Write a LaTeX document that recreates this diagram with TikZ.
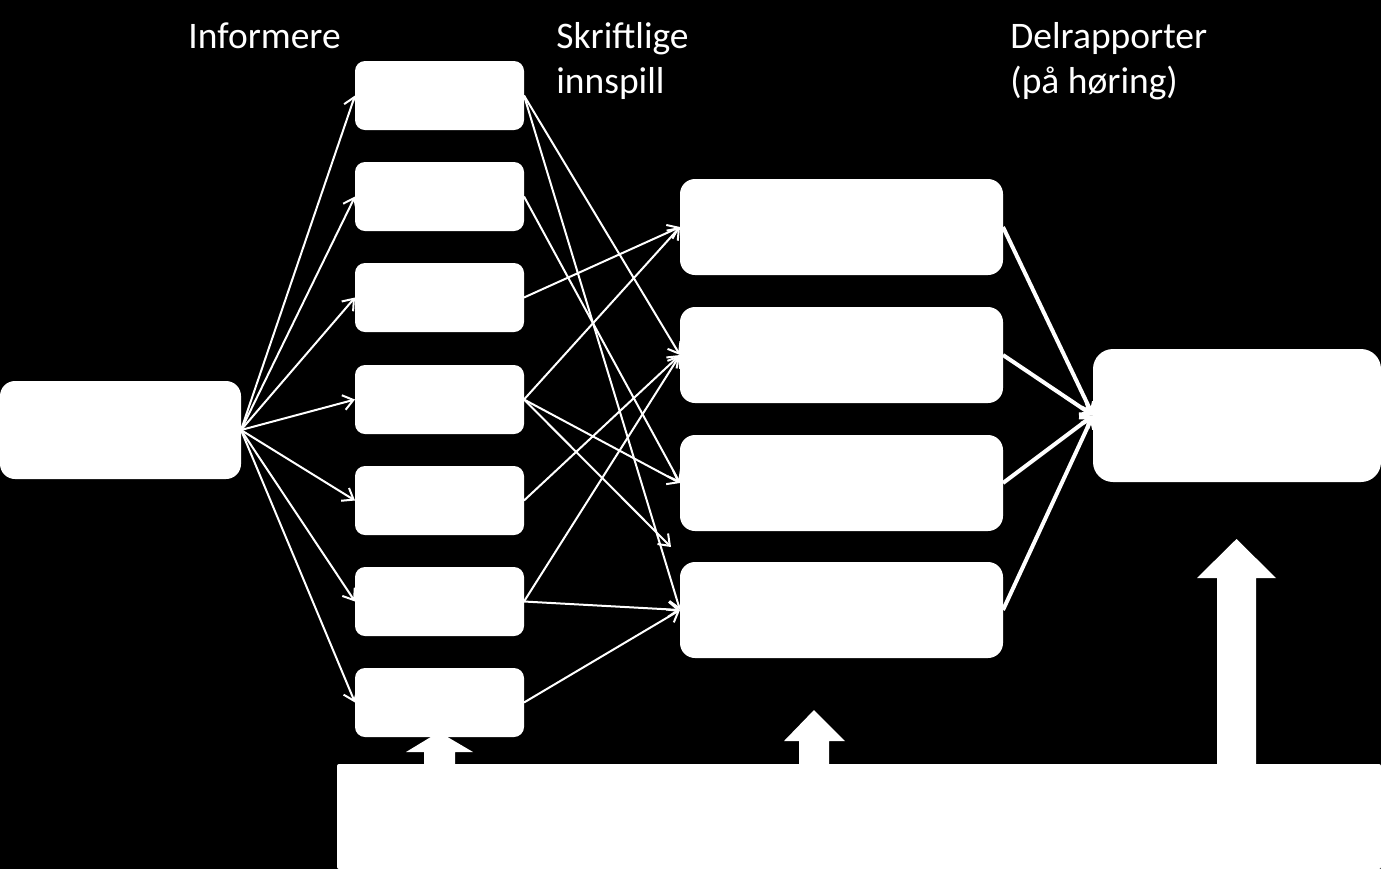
\documentclass[tikz,border=0pt]{standalone}
\usepackage{fontspec}
\setmainfont{Carlito}
\usetikzlibrary{arrows.meta}
\begin{document}
\begin{tikzpicture}[x=0.5pt,y=-0.5pt,
  box/.style={fill=white, draw=none, inner sep=0pt, outer sep=0pt},
  leftbox/.style={box, minimum width=120.5pt, minimum height=49pt, rounded corners=7.5pt},
  smallbox/.style={box, minimum width=84.5pt, minimum height=34.5pt, rounded corners=5pt},
  midbox/.style={box, minimum width=161.5pt, minimum height=48pt, rounded corners=7.5pt},
  rightbox/.style={box, minimum width=144pt, minimum height=66.5pt, rounded corners=10pt},
  basebox/.style={box, minimum width=522pt, minimum height=52.5pt, rounded corners=1pt},
  lbl/.style={text=white, font=\fontsize{18.75}{22.5}\selectfont, inner sep=0pt, anchor=base west},
  thin/.style={draw=white, line width=1pt, -{Straight Barb[length=5pt,width=7.5pt]}},
  thick/.style={draw=white, line width=2pt, -{Straight Barb[length=4.5pt,width=7pt]}},
  blockarrow/.style={fill=white, draw=none}
]
\fill[black] (0,0) rectangle (1381,869);
\useasboundingbox (0,0) rectangle (1381,869);

% base rectangle
\node[basebox] (base) at (859,816.5) {};

% block arrows (drawn before boxes so boxes cover the tips)
\fill[blockarrow] (424,764) -- (424,752) -- (406,752) -- (439,732) -- (473,752) -- (455,752) -- (455,764) -- cycle;
\fill[blockarrow] (799,764) -- (799,741) -- (784,741) -- (814,710) -- (845,741) -- (829,741) -- (829,764) -- cycle;
\fill[blockarrow] (1217,764) -- (1217,578) -- (1197,578) -- (1236.5,539) -- (1276,578) -- (1256,578) -- (1256,764) -- cycle;

% boxes
\node[leftbox] (L) at (120.5,430) {};
\node[smallbox] (s1) at (439.5,95.5) {};
\node[smallbox] (s2) at (439.5,196.5) {};
\node[smallbox] (s3) at (439.5,297.5) {};
\node[smallbox] (s4) at (439.5,399.5) {};
\node[smallbox] (s5) at (439.5,500.5) {};
\node[smallbox] (s6) at (439.5,601.5) {};
\node[smallbox] (s7) at (439.5,702.5) {};
\node[midbox] (m1) at (841.5,227) {};
\node[midbox] (m2) at (841.5,355) {};
\node[midbox] (m3) at (841.5,483) {};
\node[midbox] (m4) at (841.5,610) {};
\node[rightbox] (R) at (1237,415.5) {};
\coordinate (gap) at (671,547);

% labels
\node[lbl] (t1) at (188,48) {Informere};
\node[lbl] (t2a) at (556,48) {Skriftlige};
\node[lbl] (t2b) at (556,93) {innspill};
\node[lbl] (t3a) at (1010,48) {Delrapporter};
\node[lbl] (t3b) at (1010,93) {(på høring)};

% left box to small boxes
\foreach \i in {1,...,7} {\draw[thin] (L.east) -- (s\i.west);}

% small boxes to middle boxes
\draw[thin] (s1.east) -- (m2.west);
\draw[thin] (s1.east) -- (m4.west);
\draw[thin] (s2.east) -- (m3.west);
\draw[thin] (s3.east) -- (m1.west);
\draw[thin] (s4.east) -- (m1.west);
\draw[thin] (s4.east) -- (m3.west);
\draw[thin] (s4.east) -- (gap);
\draw[thin] (s5.east) -- (m2.west);
\draw[thin] (s6.east) -- (m2.west);
\draw[thin] (s6.east) -- (m4.west);
\draw[thin] (s7.east) -- (m4.west);

% middle boxes to right box
\foreach \i in {1,...,4} {\draw[thick] (m\i.east) -- (R.west);}
\end{tikzpicture}
\end{document}
